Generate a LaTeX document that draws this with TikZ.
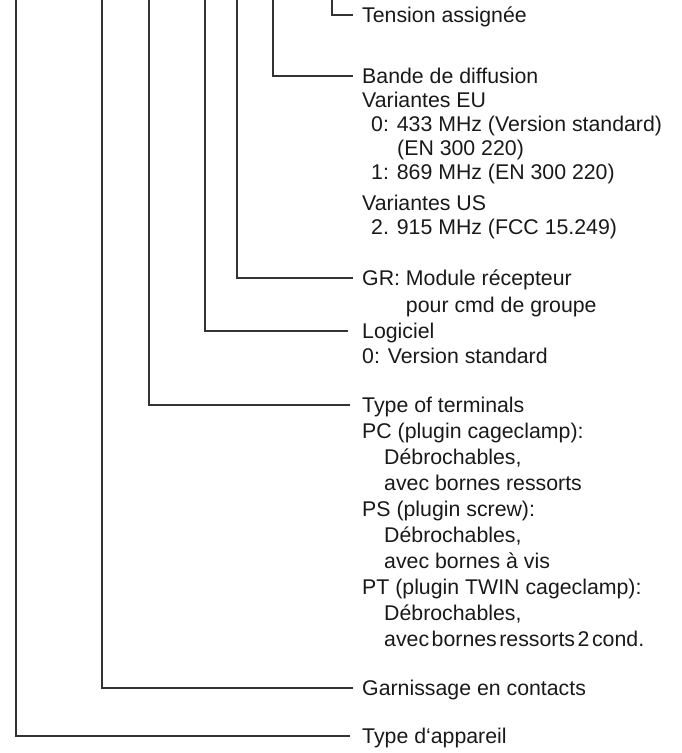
\documentclass[tikz,border=0pt]{standalone}
\usepackage{fontspec}
\setmainfont{Liberation Sans}
\begin{document}
\begin{tikzpicture}[x=1pt,y=-1pt,
  conn/.style={draw=black!80, line width=1.3pt},
  lbl/.style={anchor=west, inner xsep=9pt, inner ysep=0pt, text height=15pt, text depth=0pt,
    font=\fontsize{21.3}{26}\selectfont, text=black!90},
]
\useasboundingbox (0,0) rectangle (682,753);

% labels
\node[lbl] (ten) at (353,15) {Tension assignée};

\node[lbl] (b1) at (353,76) {Bande de diffusion};
\node[lbl] (b2) at (353,100) {Variantes EU};
\node[lbl] (b3) at (362,124) {0: 433 MHz (Version standard)};
\node[lbl] (b4) at (388,148) {(EN 300 220)};
\node[lbl] (b5) at (362,172) {1: 869 MHz (EN 300 220)};
\node[lbl] (b6) at (353,203) {Variantes US};
\node[lbl] (b7) at (362,227) {2. 915 MHz (FCC 15.249)};

\node[lbl] (g1) at (353,278) {GR: Module récepteur};
\node[lbl] (g2) at (353,305) {\phantom{GR: }pour cmd de groupe};

\node[lbl] (l1) at (353,331) {Logiciel};
\node[lbl] (l2) at (353,356) {0: Version standard};

\node[lbl] (t1) at (353,405) {Type of terminals};
\node[lbl] (t2) at (353,431) {PC (plugin cageclamp):};
\node[lbl] (t3) at (375,457) {Débrochables,};
\node[lbl] (t4) at (375,483) {avec bornes ressorts};
\node[lbl] (t5) at (353,509) {PS (plugin screw):};
\node[lbl] (t6) at (375,535) {Débrochables,};
\node[lbl] (t7) at (375,561) {avec bornes à vis};
\node[lbl] (t8) at (353,587) {PT (plugin TWIN cageclamp):};
\node[lbl] (t9) at (375,613) {Débrochables,};
\node[lbl] (t10) at (375,639) {\spaceskip=0.12em\relax avec bornes ressorts 2 cond.};

\node[lbl] (gar) at (353,688) {Garnissage en contacts};
\node[lbl] (typ) at (353,736) {Type d‘appareil};

% free ends at the top edge
\coordinate (c1) at (16,0);
\coordinate (c2) at (102,0);
\coordinate (c3) at (149,0);
\coordinate (c4) at (205,0);
\coordinate (c5) at (237,0);
\coordinate (c6) at (273,0);
\coordinate (c7) at (332,0);

% connectors
\draw[conn] (c7) |- (ten.west);
\draw[conn] (c6) |- (b1.west);
\draw[conn] (c5) |- (g1.west);
\draw[conn, shorten >=5pt] (c4) |- (l1.west);
\draw[conn, shorten >=3pt] (c3) |- (t1.west);
\draw[conn] (c2) |- (gar.west);
\draw[conn, shorten >=3pt] (c1) |- (typ.west);
\end{tikzpicture}
\end{document}
